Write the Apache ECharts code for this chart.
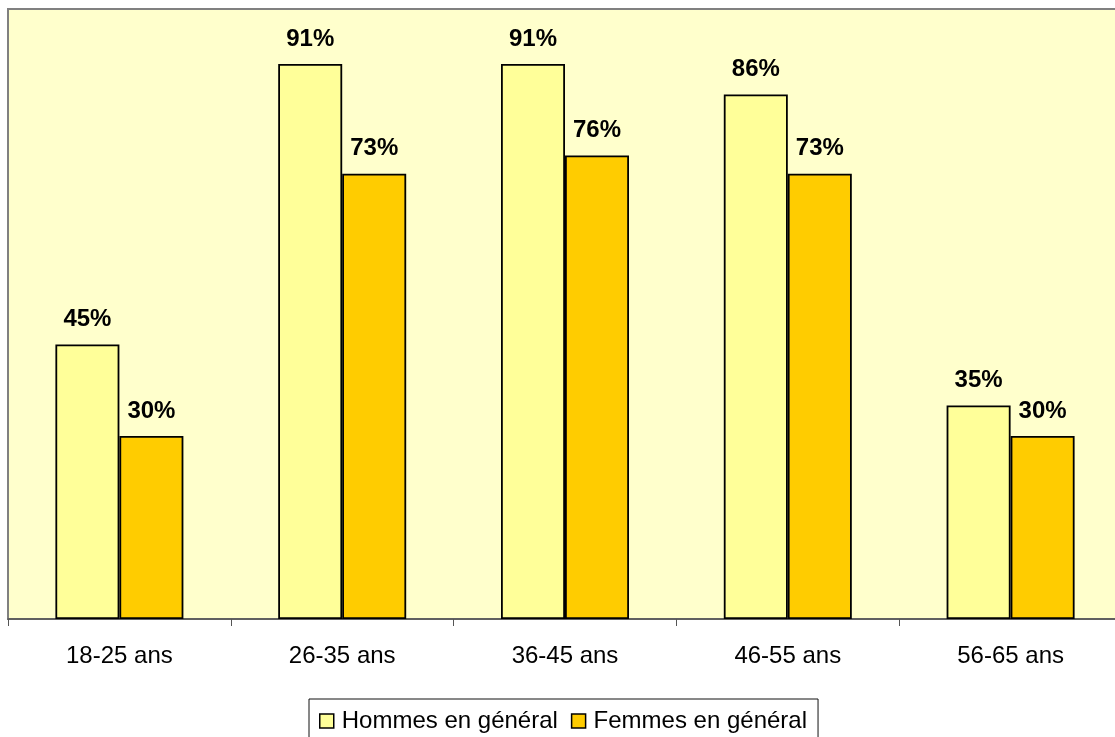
<!DOCTYPE html>
<html>
<head>
<meta charset="utf-8">
<script src="https://cdn.jsdelivr.net/npm/echarts@6/dist/echarts.min.js"></script>
<style>
html,body{margin:0;padding:0;background:#fff;}
#chart{width:1115px;height:737px;}
</style>
</head>
<body>
<div id="chart"></div>
<script>
var categories = ['18-25 ans', '26-35 ans', '36-45 ans', '46-55 ans', '56-65 ans'];
var hommes = [45, 91, 91, 86, 35];
var femmes = [30, 73, 76, 73, 30];
var seriesNames = ['Hommes en général', 'Femmes en général'];

var FONT = '"Liberation Sans", Arial, Helvetica, sans-serif';
var chart = echarts.init(document.getElementById('chart'), null, {renderer: 'canvas'});

var labelCfg = {
  show: true,
  position: 'top',
  distance: 13,
  formatter: '{c}%',
  color: '#000',
  fontFamily: FONT,
  fontWeight: 'bold',
  fontSize: 24
};

chart.setOption({
  backgroundColor: '#ffffff',
  animation: false,
  grid: {
    left: 8, right: -7, top: 9, bottom: 118,
    outerBoundsMode: 'none',
    containLabel: false,
    show: true,
    backgroundColor: '#FFFFCC',
    borderColor: '#808080',
    borderWidth: 2
  },
  legend: {
    left: 309,
    top: 699,
    padding: [10, 11, 20, 10],
    borderColor: '#111',
    borderWidth: 1,
    backgroundColor: '#fff',
    itemWidth: 14,
    itemHeight: 14,
    itemGap: 13,
    icon: 'rect',
    itemStyle: {borderColor: '#000', borderWidth: 1.5},
    textStyle: {fontFamily: FONT, fontSize: 24, color: '#000', padding: [0, 0, 0, 3]},
    data: seriesNames
  },
  xAxis: {
    type: 'category',
    data: categories,
    axisLine: {show: true, lineStyle: {color: '#555', width: 1.5}},
    axisTick: {show: true, length: 7, lineStyle: {color: '#555', width: 1}},
    axisLabel: {color: '#000', fontFamily: FONT, fontSize: 24, margin: 25},
    splitLine: {show: false}
  },
  yAxis: {
    type: 'value',
    min: 0, max: 100,
    show: false,
    splitLine: {show: false}
  },
  series: [
    {
      name: seriesNames[0],
      type: 'bar',
      data: hommes,
      barWidth: 64,
      barGap: '0%',
      itemStyle: {color: '#FFFF99', borderColor: '#000', borderWidth: 1.8},
      label: labelCfg
    },
    {
      name: seriesNames[1],
      type: 'bar',
      data: femmes,
      barWidth: 64,
      barGap: '0%',
      itemStyle: {color: '#FFCC00', borderColor: '#000', borderWidth: 1.8},
      label: labelCfg
    }
  ]
});
</script>
</body>
</html>
